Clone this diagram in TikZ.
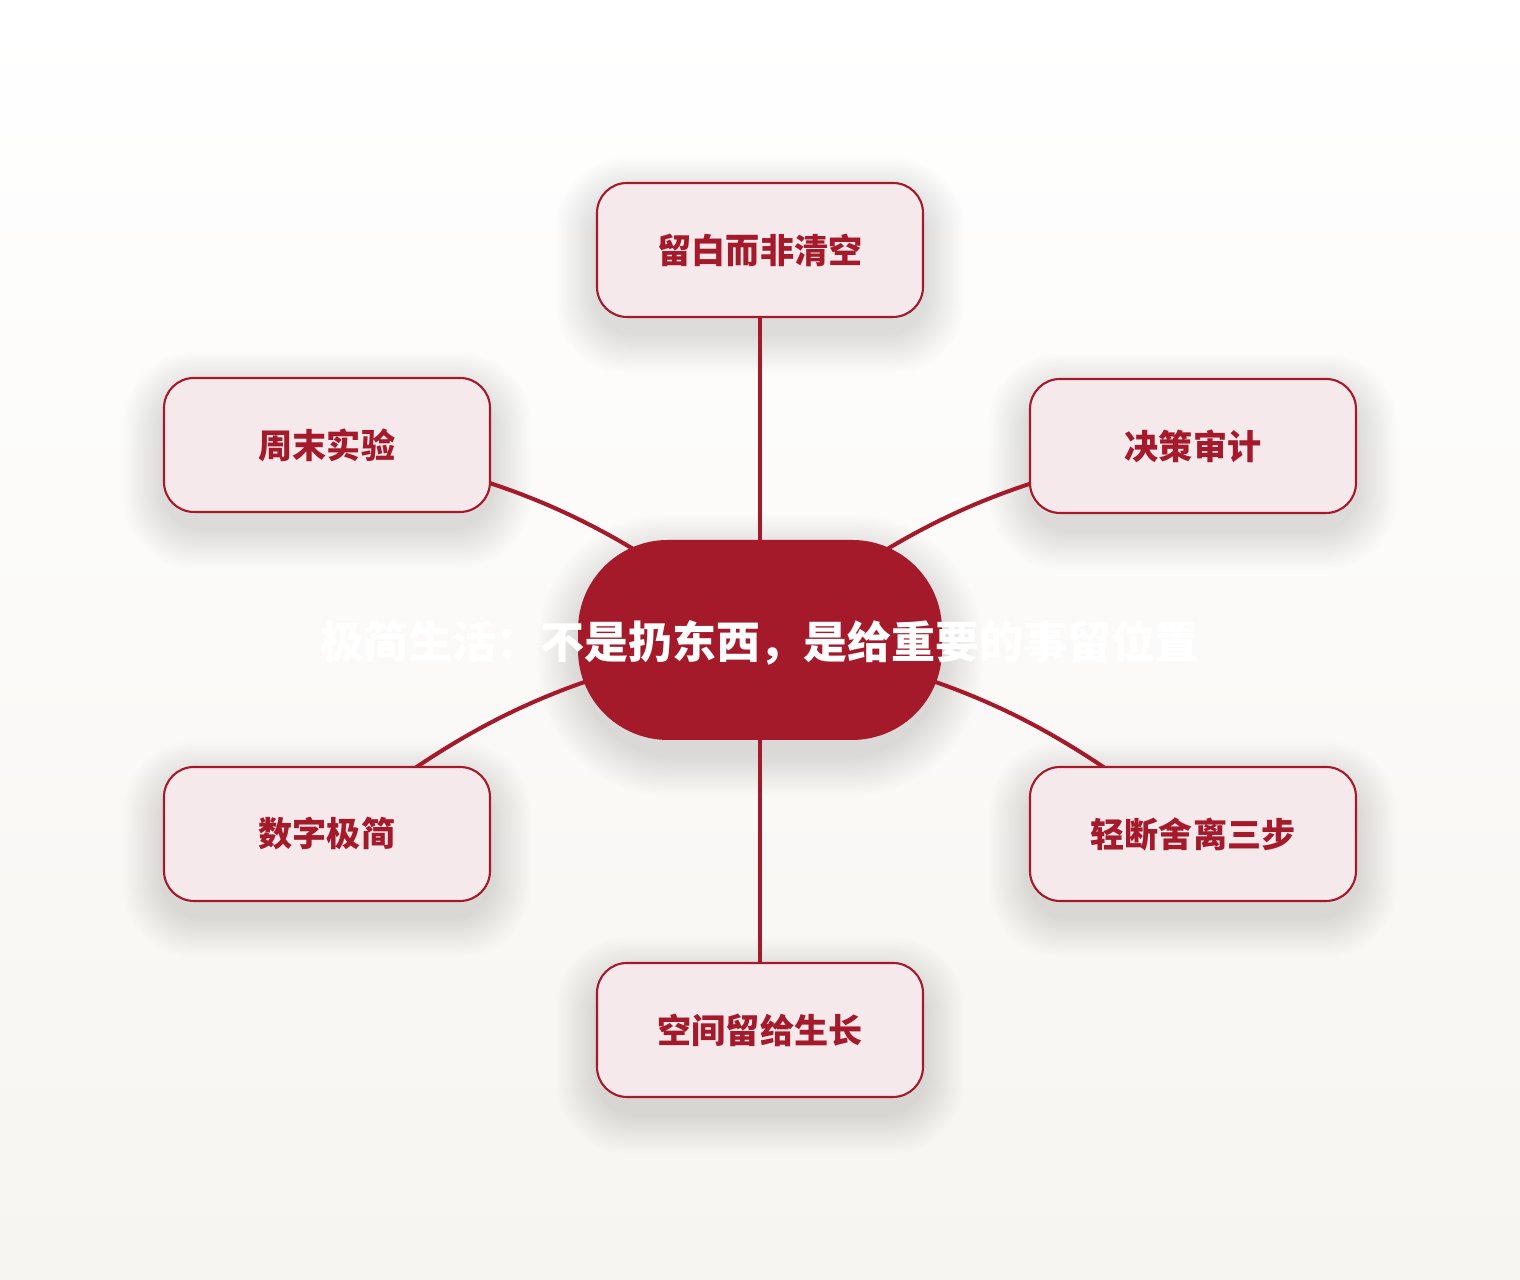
\documentclass[tikz,border=0pt]{standalone}
\usepackage{fontspec}
\setmainfont{Noto Sans CJK SC}
\usetikzlibrary{calc}
\definecolor{deepred}{HTML}{A51A2A}
\definecolor{leaffill}{HTML}{F5E9EC}
\definecolor{paperbot}{HTML}{F7F5F1}
\pgfdeclarelayer{back}
\pgfsetlayers{back,main}
\tikzset{
  leaf/.style={draw=deepred, line width=0.6pt, fill=leaffill, rounded corners=0.3cm,
    minimum width=3.26cm, minimum height=1.34cm, text=deepred,
    font=\fontsize{9.7pt}{11pt}\selectfont\bfseries},
  hubnode/.style={fill=deepred, rounded corners=0.9cm, minimum width=3.64cm, minimum height=2cm},
  link/.style={draw=deepred, line width=1.15pt},
  haze/.style={black, opacity=0.009}
}
\begin{document}
\begin{tikzpicture}
% page
\begin{pgfonlayer}{back}
\shade[top color=white, bottom color=paperbot] (0,0) rectangle (15.2,12.8);
\end{pgfonlayer}
\useasboundingbox (0,0) rectangle (15.2,12.8);

% centre
\node [hubnode] (hub) at (7.60,6.40) {};
\node [text=white, font=\fontsize{12.5pt}{14pt}\selectfont\bfseries] (hubtext) at (7.60,6.37) {极简生活：不是扔东西，是给重要的事留位置};

% leaves
\node [leaf] (top) at (7.60,10.30) {留白而非清空};
\node [leaf] (upleft) at (3.27,8.35) {周末实验};
\node [leaf] (upright) at (11.93,8.34) {决策审计};
\node [leaf] (lowleft) at (3.27,4.46) {数字极简};
\node [leaf] (lowright) at (11.93,4.46) {轻断舍离三步};
\node [leaf] (bottom) at (7.60,2.50) {空间留给生长};

% shadows and links
\begin{pgfonlayer}{back}
\foreach \n/\r in {hub/1.0,top/0.4,upleft/0.4,upright/0.4,lowleft/0.4,lowright/0.4,bottom/0.4}
  \foreach \k in {1,...,16}
    \fill [haze, rounded corners=\r cm+0.02*\k cm] ($(\n.south west)+(-0.025*\k,-0.15-0.025*\k)$) rectangle ($(\n.north east)+(0.025*\k,-0.15+0.025*\k)$);
\draw [link] (hub.center) -- (top.center);
\draw [link] (hub.center) to[bend right=15] (upleft.center);
\draw [link] (hub.center) to[bend left=15] (upright.center);
\draw [link] (hub.center) to[bend right=15] (lowleft.center);
\draw [link] (hub.center) to[bend left=15] (lowright.center);
\draw [link] (hub.center) -- (bottom.center);
\end{pgfonlayer}
\end{tikzpicture}
\end{document}
